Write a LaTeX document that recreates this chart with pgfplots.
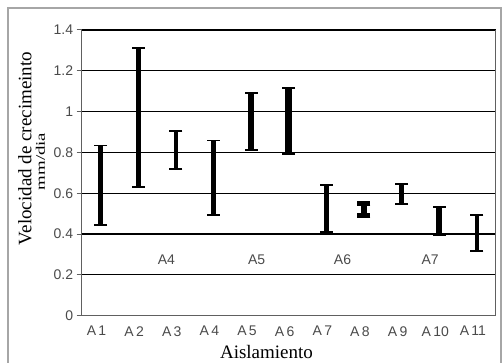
\documentclass[border=0pt]{standalone}
\usepackage{fontspec}
\setmainfont{Liberation Sans}
\newfontfamily\serif{Liberation Serif}
\usepackage{graphicx}
\usepackage{pgfplots}
\pgfplotsset{compat=1.18}
\definecolor{axgray}{HTML}{606060}
\definecolor{txtgray}{HTML}{4A4A4A}
\begin{document}
\begin{tikzpicture}
\path[use as bounding box] (-81.7pt,-47.3pt) rectangle (422.3pt,315.7pt);
\begin{axis}[
  at={(0pt,0pt)}, anchor=south west,
  scale only axis, width=414pt, height=285.7pt,
  xmin=-0.5, xmax=10.5, ymin=0, ymax=1.4,
  xtick={0,...,10},
  xticklabels={A\,1,A\,2,A\,3,A\,4,A\,5,A\,6,A\,7,A\,8,A\,9,A\,10,A\,11},
  x tick label style={xshift=-4pt, yshift=-2pt, font=\fontsize{14}{15}\selectfont, text=txtgray},
  ytick={0,0.2,...,1.4},
  yticklabels={0,0.2,0.4,0.6,0.8,1,1.2,1.4},
  y tick label style={font=\fontsize{14}{15}\selectfont, text=txtgray},
  /pgf/number format/assume math mode=true,
  ymajorgrids, grid style={black, line width=1.2pt},
  major x tick style={draw=none},
  major y tick style={axgray, line width=1pt},
  tick align=outside, major tick length=5pt,
  axis line style={axgray, line width=1.2pt},
  axis x line*=bottom, axis y line*=left,
  clip=false,
]
% bars: (index, low) -- (index, high)
\addplot[black, line width=4.7pt] coordinates {(0,0.446) (0,0.834)};
\addplot[black, line width=5.3pt] coordinates {(1,0.629) (1,1.313)};
\addplot[black, line width=4pt]   coordinates {(2,0.719) (2,0.906)};
\addplot[black, line width=4.7pt] coordinates {(3,0.492) (3,0.858)};
\addplot[black, line width=6pt]   coordinates {(4,0.812) (4,1.093)};
\addplot[black, line width=7.5pt] coordinates {(5,0.791) (5,1.114)};
\addplot[black, line width=5.5pt] coordinates {(6,0.409) (6,0.640)};
\addplot[black, line width=6pt]   coordinates {(7,0.482) (7,0.559)};
\addplot[black, line width=4.3pt] coordinates {(8,0.549) (8,0.647)};
\addplot[black, line width=5.5pt] coordinates {(9,0.394) (9,0.533)};
\addplot[black, line width=4pt]   coordinates {(10,0.318) (10,0.493)};
% caps
\addplot[only marks, mark=-, mark size=6.5pt, mark options={black, line width=1.8pt}]
  coordinates {(0,0.446) (0,0.834) (1,0.629) (1,1.313) (2,0.719) (2,0.906)
  (3,0.492) (3,0.858) (4,0.812) (4,1.093) (5,0.791) (5,1.114) (6,0.409) (6,0.640)
  (8,0.549) (8,0.647) (9,0.394) (9,0.533) (10,0.318) (10,0.493)};
\addplot[only marks, mark=-, mark size=6.5pt, mark options={black, line width=5pt}]
  coordinates {(7,0.490) (7,0.551)};
% group labels
\node[font=\fontsize{14}{15}\selectfont, text=txtgray] at (axis cs:1.75,0.274) {A4};
\node[font=\fontsize{14}{15}\selectfont, text=txtgray] at (axis cs:4.15,0.274) {A5};
\node[font=\fontsize{14}{15}\selectfont, text=txtgray] at (axis cs:6.43,0.274) {A6};
\node[font=\fontsize{14}{15}\selectfont, text=txtgray] at (axis cs:8.76,0.274) {A7};
% right border of plot
\draw[axgray, line width=1pt] (rel axis cs:1,0) -- (rel axis cs:1,1);
\end{axis}
% axis labels
\node[rotate=90, font=\serif\fontsize{19}{20}\selectfont] at (-56.7pt,167.2pt) {Velocidad de crecimeinto};
\node[rotate=90, font=\serif\fontsize{13}{14}\selectfont] at (-41.2pt,154.2pt) {\scalebox{1.45}[1]{mm/dia}};
\node[font=\serif\fontsize{19}{20}\selectfont] at (184.8pt,-36.3pt) {Aislamiento};
\draw[gray!70, line width=1.5pt] (-73.7pt,-50pt) -- (-73.7pt,307.7pt) -- (419.3pt,307.7pt) -- (419.3pt,-50pt);
\end{tikzpicture}
\end{document}
